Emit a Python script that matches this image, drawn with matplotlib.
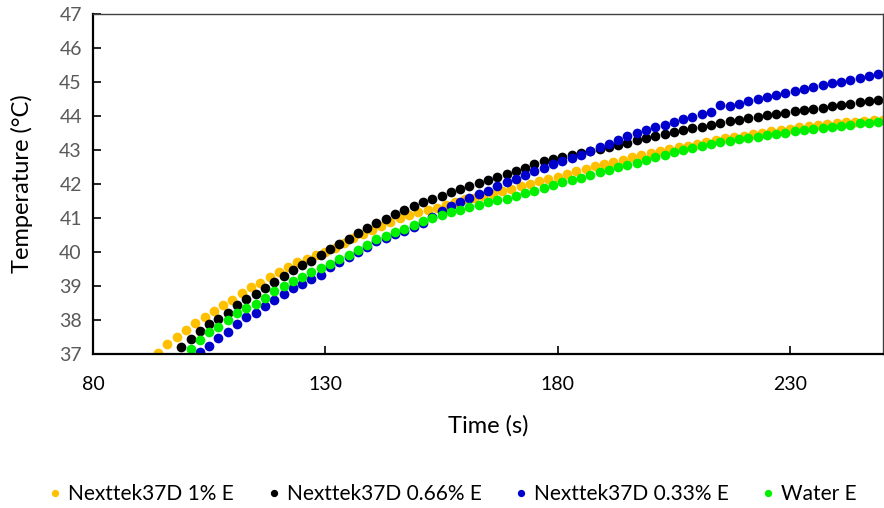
import numpy as np
import matplotlib
matplotlib.use("Agg")
import matplotlib.pyplot as plt

plt.rcParams['font.family'] = ['Lato', 'DejaVu Sans']

series_names = ["Nexttek37D 1% E", "Nexttek37D 0.66% E", "Nexttek37D 0.33% E", "Water E"]
series_colors = ["#FFC000", "#000000", "#0000CC", "#00F000"]

# start time (s) of each series, sampled every 2 s
start_1pct = 94
start_066 = 99
start_033 = 103
start_water = 101
step_s = 2

temp_1pct = [37.03, 37.28, 37.50, 37.70, 37.90, 38.08, 38.26, 38.43, 38.60, 38.80,
             38.96, 39.10, 39.26, 39.42, 39.57, 39.70, 39.80, 39.90, 40.00, 40.13,
             40.27, 40.40, 40.52, 40.65, 40.77, 40.88, 40.99, 41.09, 41.18, 41.24,
             41.30, 41.37, 41.46, 41.55, 41.60, 41.66, 41.72, 41.79, 41.85, 41.93,
             42.01, 42.08, 42.15, 42.22, 42.30, 42.38, 42.45, 42.52, 42.59, 42.65,
             42.71, 42.78, 42.85, 42.91, 42.96, 43.02, 43.08, 43.13, 43.18, 43.24,
             43.30, 43.34, 43.38, 43.42, 43.47, 43.51, 43.55, 43.59, 43.63, 43.67,
             43.71, 43.74, 43.76, 43.79, 43.81, 43.83, 43.85, 43.87, 43.89]

temp_066 = [37.20, 37.45, 37.68, 37.87, 38.02, 38.22, 38.43, 38.61, 38.76, 38.95,
            39.13, 39.30, 39.47, 39.61, 39.75, 39.90, 40.08, 40.24, 40.38, 40.56,
            40.71, 40.85, 40.98, 41.13, 41.25, 41.36, 41.46, 41.56, 41.66, 41.76,
            41.85, 41.93, 42.02, 42.12, 42.21, 42.29, 42.39, 42.48, 42.58, 42.67,
            42.74, 42.80, 42.86, 42.92, 42.98, 43.04, 43.10, 43.16, 43.22, 43.28,
            43.34, 43.40, 43.46, 43.52, 43.58, 43.64, 43.69, 43.74, 43.79, 43.84,
            43.89, 43.93, 43.97, 44.02, 44.06, 44.10, 44.14, 44.18, 44.22, 44.25,
            44.29, 44.32, 44.36, 44.40, 44.44, 44.47]

temp_033 = [37.05, 37.25, 37.47, 37.65, 37.88, 38.08, 38.22, 38.40, 38.58, 38.76,
            38.93, 39.07, 39.20, 39.33, 39.56, 39.71, 39.86, 40.01, 40.16, 40.31,
            40.42, 40.52, 40.61, 40.73, 40.86, 41.02, 41.20, 41.36, 41.47, 41.60,
            41.71, 41.80, 41.94, 42.06, 42.16, 42.27, 42.37, 42.48, 42.59, 42.68,
            42.77, 42.86, 42.97, 43.08, 43.18, 43.30, 43.40, 43.50, 43.59, 43.67,
            43.75, 43.83, 43.91, 43.98, 44.05, 44.12, 44.31, 44.28, 44.36, 44.43,
            44.49, 44.55, 44.61, 44.67, 44.73, 44.80, 44.86, 44.91, 44.96, 45.01,
            45.07, 45.13, 45.19, 45.25, 45.30]

temp_water = [37.15, 37.42, 37.64, 37.80, 38.00, 38.20, 38.35, 38.47, 38.65, 38.85,
              39.00, 39.15, 39.27, 39.40, 39.53, 39.66, 39.78, 39.92, 40.07, 40.22,
              40.38, 40.48, 40.58, 40.67, 40.79, 40.90, 40.99, 41.09, 41.17, 41.24,
              41.31, 41.38, 41.46, 41.52, 41.57, 41.65, 41.73, 41.80, 41.88, 41.97,
              42.05, 42.12, 42.19, 42.27, 42.35, 42.42, 42.49, 42.56, 42.63, 42.70,
              42.78, 42.86, 42.94, 43.00, 43.06, 43.12, 43.18, 43.23, 43.27, 43.31,
              43.35, 43.39, 43.43, 43.47, 43.51, 43.55, 43.59, 43.63, 43.66, 43.69,
              43.72, 43.75, 43.78, 43.80, 43.83]

x_ticks = [80, 130, 180, 230]
y_ticks = [37, 38, 39, 40, 41, 42, 43, 44, 45, 46, 47]

fig = plt.figure(figsize=(8.84, 5.08), dpi=100)
ax = fig.add_axes([93 / 884, 1 - 354 / 508, 790 / 884, 340 / 508])

starts = [start_1pct, start_066, start_033, start_water]
temps = [temp_1pct, temp_066, temp_033, temp_water]
for name, color, st, tv in zip(series_names, series_colors, starts, temps):
    t = st + step_s * np.arange(len(tv))
    ax.plot(t, tv, linestyle='none', marker='o', markersize=7.0,
            markeredgewidth=0, color=color, label=name, clip_on=True)

ax.set_xlim(80, 250)
ax.set_ylim(37, 47)
ax.set_xticks(x_ticks)
ax.set_yticks(y_ticks)
ax.tick_params(axis='both', direction='in', length=6, width=1.2, color='black')
ax.tick_params(axis='y', labelsize=14, labelcolor='#595959', pad=8)
ax.tick_params(axis='x', labelsize=14, labelcolor='#000000', pad=16)
for s in ['left', 'bottom']:
    ax.spines[s].set_linewidth(1.6)
    ax.spines[s].set_color('black')
for s in ['top', 'right']:
    ax.spines[s].set_linewidth(1.0)
    ax.spines[s].set_color('#404040')

ax.set_xlabel("Time (s)", fontsize=17)
ax.xaxis.set_label_coords(0.5, -0.18)
ax.set_ylabel("Temperature (°C)", fontsize=17)
ax.yaxis.set_label_coords(-0.076, 0.5)

fig.legend(loc='center', bbox_to_anchor=(451 / 884, 1 - 494 / 508), ncol=4, frameon=False,
           fontsize=15, handletextpad=0.12, columnspacing=1.4, markerscale=0.75,
           handlelength=1.0)

fig.savefig("out.png", dpi=100)
